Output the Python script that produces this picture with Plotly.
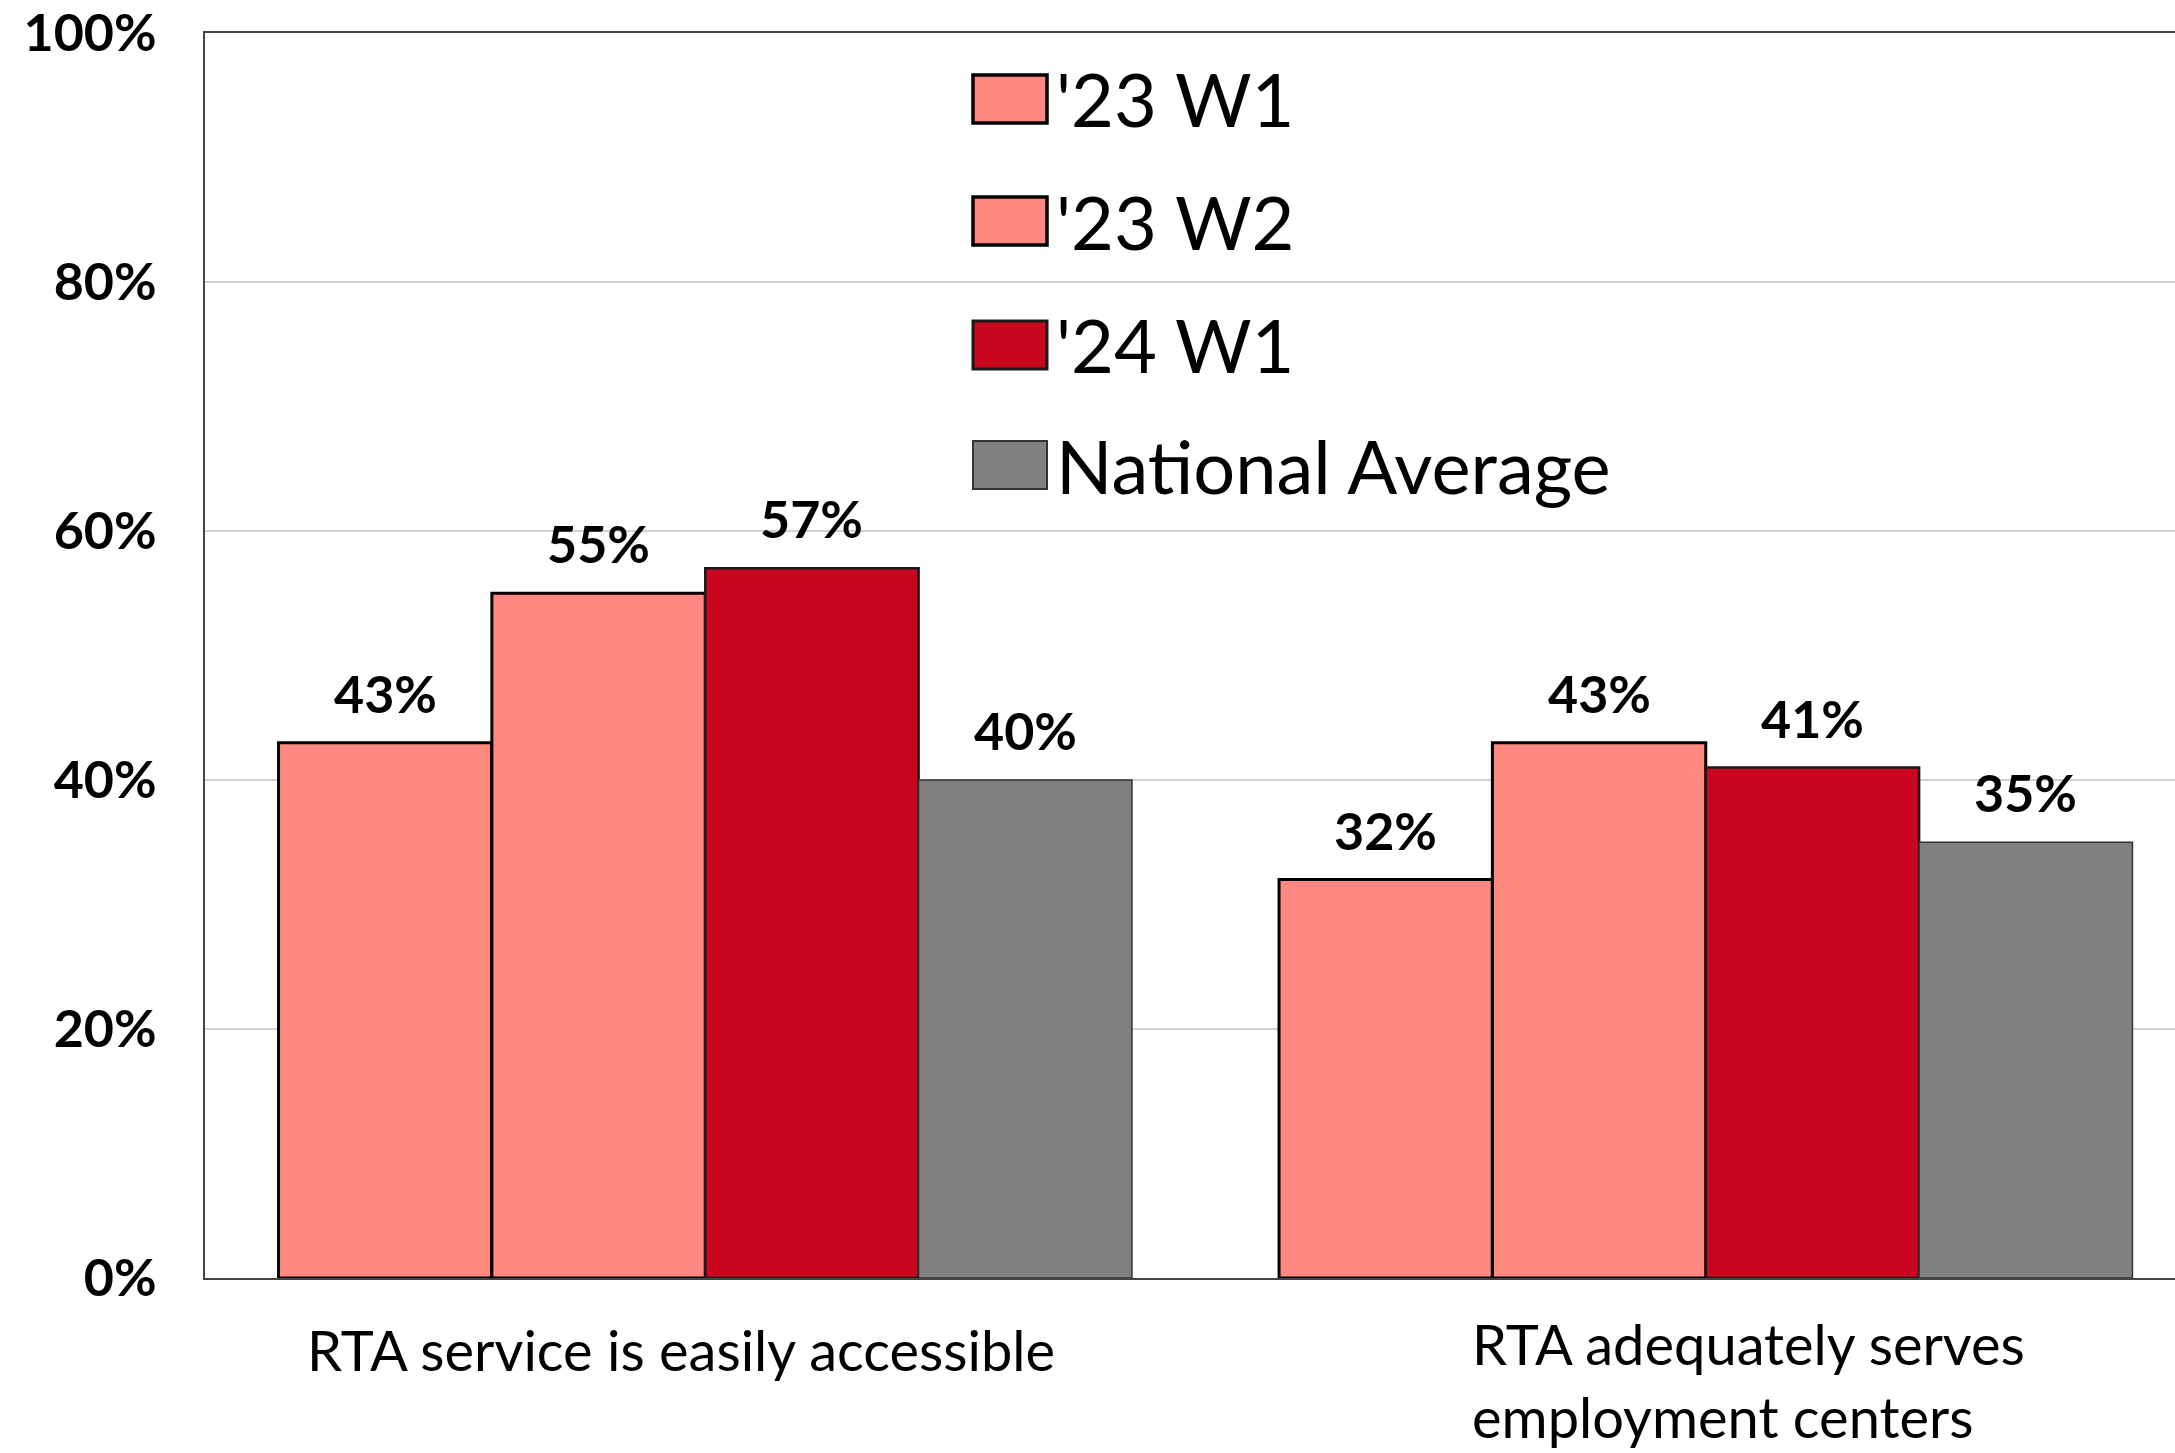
import plotly.graph_objects as go

categories = ["RTA service is easily accessible", "RTA adequately serves<br>employment centers"]
series_names = ["'23 W1", "'23 W2", "'24 W1", "National Average"]
series_values = [
    [43, 32],
    [55, 43],
    [57, 41],
    [40, 35],
]
series_colors = ["#FF8880", "#FF8880", "#C8061F", "#808080"]
series_line_widths = [3, 3, 2.5, 1.5]
series_line_colors = ["#000000", "#000000", "#1a1a1a", "#333333"]
y_ticks = [0, 20, 40, 60, 80, 100]
y_tick_labels = ["0%", "20%", "40%", "60%", "80%", "100%"]

FONT = "Lato"
W, H = 2175, 1453
ML, MT, MR = 205, 33, 0
MB = H - 1278
group_frac = 0.853
n = len(series_names)
bw = group_frac / n
pw = W - ML - MR
ph = H - MT - MB

fig = go.Figure()
for i, name in enumerate(series_names):
    fig.add_trace(go.Bar(
        x=list(range(len(categories))),
        y=series_values[i],
        name=name,
        marker=dict(color=series_colors[i],
                    line=dict(color=series_line_colors[i], width=series_line_widths[i])),
        showlegend=False,
    ))

annotations = []
for i, name in enumerate(series_names):
    off = (i - (n - 1) / 2) * bw
    for j, v in enumerate(series_values[i]):
        annotations.append(dict(
            x=j + off, y=v, xref="x", yref="y", text=f"{v}%",
            showarrow=False, yanchor="bottom", yshift=17,
            font=dict(family=FONT, size=52, color="#000000", weight="bold"),
        ))

# category labels
cat_shift = [-24, -236]
cat_yshift = [-36, -30]
cat_anchor = ["center", "left"]
for j, c in enumerate(categories):
    annotations.append(dict(
        x=j, y=0, xref="x", yref="y", text=c, showarrow=False,
        xanchor=cat_anchor[j], align="left", yanchor="top",
        xshift=cat_shift[j], yshift=cat_yshift[j],
        font=dict(family=FONT, size=56, color="#000000"),
    ))

# Manual legend (paper coords, pixel positions in page)
def px2x(px):
    return (px - ML) / pw
def py2y(py):
    return 1 - (py - MT) / ph

legend_rows = [99, 221, 345, 465]
shapes = []
for i, name in enumerate(series_names):
    cy = legend_rows[i]
    shapes.append(dict(
        type="rect", xref="paper", yref="paper",
        x0=px2x(973), x1=px2x(1047), y0=py2y(cy + 24), y1=py2y(cy - 24),
        fillcolor=series_colors[i],
        line=dict(color=series_line_colors[i], width=series_line_widths[i] + 0.5),
    ))
    annotations.append(dict(
        x=px2x(1054), y=py2y(cy), xref="paper", yref="paper", text=name,
        showarrow=False, xanchor="left", yanchor="middle",
        font=dict(family=FONT, size=74, color="#000000"),
    ))

fig.update_layout(
    width=W, height=H,
    margin=dict(l=ML, r=MR, t=MT, b=MB, pad=0),
    paper_bgcolor="white", plot_bgcolor="white",
    barmode="group", bargap=1 - group_frac, bargroupgap=0,
    annotations=annotations, shapes=shapes,
    showlegend=False,
)
fig.update_xaxes(
    tickmode="array", tickvals=list(range(len(categories))),
    showticklabels=False,
    range=[-0.5, -0.5 + pw / 1000.5],
    showline=True, linecolor="#444444", linewidth=2, mirror=True,
    showgrid=False, ticks="",
)
fig.update_yaxes(
    range=[0, 100], tickvals=y_ticks, ticktext=y_tick_labels,
    showline=True, linecolor="#444444", linewidth=2,
    showgrid=True, gridcolor="#D0D0D0", gridwidth=2,
    zeroline=False, ticks="", ticklabelstandoff=36,
    tickfont=dict(family=FONT, size=52, color="#000000", weight="bold"),
)

fig.write_html("out.html", config={"displayModeBar": False},
               post_script="document.body.style.margin='0';")
